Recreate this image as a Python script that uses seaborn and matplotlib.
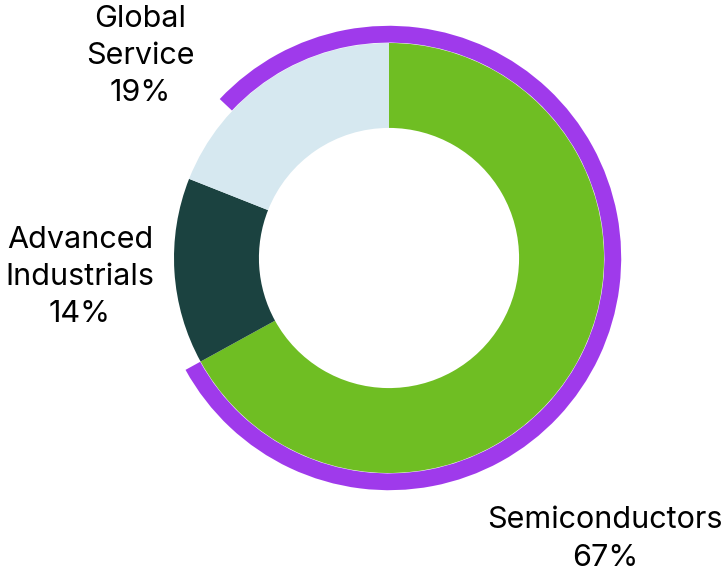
import matplotlib
matplotlib.use("Agg")
import matplotlib.pyplot as plt
import seaborn as sns

sns.set_theme(style="white")
plt.rcParams["font.family"] = ["Inter", "DejaVu Sans"]

segments = ["Semiconductors", "Advanced\nIndustrials", "Global\nService"]
shares = [67, 14, 19]
colors = ["#6fbe23", "#1b4240", "#d6e8f0"]
highlight_share = 80
highlight_color = "#9f3aeb"

fig = plt.figure(figsize=(7.25, 5.76), dpi=100)
ax = fig.add_axes([0, 0, 1, 1])

# main donut, clockwise from the top
ax.pie(
    shares,
    colors=colors,
    startangle=90,
    counterclock=False,
    radius=1.0,
    wedgeprops=dict(width=0.395, linewidth=0),
)

# purple outer arc ending with the semiconductors slice
ax.pie(
    [highlight_share, 100 - highlight_share],
    colors=[highlight_color, "none"],
    startangle=90 + (highlight_share - shares[0]) * 3.6,
    counterclock=False,
    radius=1.08,
    wedgeprops=dict(width=0.078, linewidth=0),
)

label_pos = [(1.005, -1.307), (-1.437, -0.088), (-1.158, 0.94)]
for name, val, (x, y) in zip(segments, shares, label_pos):
    ax.text(
        x, y, f"{name}\n{val}%",
        ha="center", va="center",
        fontsize=22, color="black", linespacing=1.42,
    )

ax.set_xlim(-389 / 215, (725 - 389) / 215)
ax.set_ylim(-318 / 215, 258 / 215)
ax.axis("off")

plt.savefig("out.png", dpi=100)
